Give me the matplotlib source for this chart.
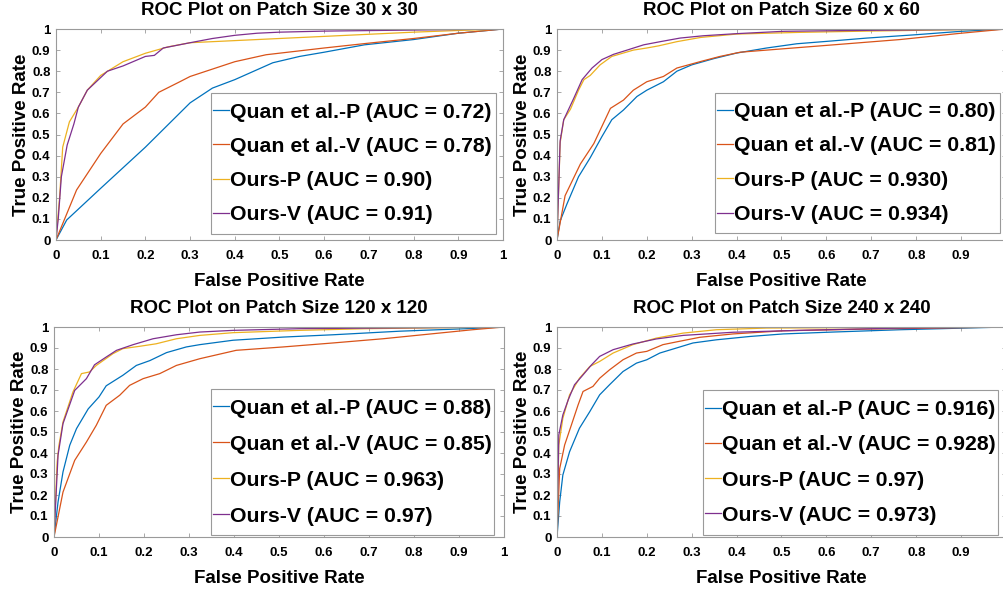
import matplotlib
matplotlib.use("Agg")
import matplotlib.pyplot as plt
from matplotlib.patches import Rectangle
import numpy as np

plt.rcParams['font.family'] = ['Liberation Sans', 'DejaVu Sans']
plt.rcParams['font.weight'] = 'bold'

colors = ['#0072BD', '#D95319', '#EDB120', '#7E2F8E']
methods = ['Quan et al.-P', 'Quan et al.-V', 'Ours-P', 'Ours-V']

patch_sizes = ['30 x 30', '60 x 60', '120 x 120', '240 x 240']
auc_labels = [
    ['0.72', '0.78', '0.90', '0.91'],
    ['0.80', '0.81', '0.930', '0.934'],
    ['0.88', '0.85', '0.963', '0.97'],
    ['0.916', '0.928', '0.97', '0.973'],
]

# ---- Patch 30 x 30 ----
p30_qp_fpr = [0, 0.024, 0.1, 0.2, 0.3, 0.35, 0.4, 0.485, 0.545, 0.6, 0.69, 0.8, 0.9, 1]
p30_qp_tpr = [0, 0.095, 0.245, 0.44, 0.65, 0.72, 0.76, 0.84, 0.87, 0.89, 0.925, 0.95, 0.98, 1]
p30_qv_fpr = [0, 0.046, 0.1, 0.15, 0.2, 0.23, 0.277, 0.3, 0.4, 0.47, 0.6, 0.7, 0.8, 0.9, 1]
p30_qv_tpr = [0, 0.237, 0.41, 0.55, 0.63, 0.70, 0.75, 0.775, 0.845, 0.878, 0.91, 0.933, 0.955, 0.98, 1]
p30_op_fpr = [0, 0.008, 0.015, 0.03, 0.05, 0.07, 0.1, 0.15, 0.2, 0.25, 0.3, 0.4, 0.5, 0.6, 0.7, 0.8, 0.9, 1]
p30_op_tpr = [0, 0.2, 0.44, 0.56, 0.63, 0.71, 0.78, 0.845, 0.885, 0.915, 0.935, 0.945, 0.955, 0.965, 0.975, 0.985, 0.993, 1]
p30_ov_fpr = [0, 0.005, 0.012, 0.025, 0.04, 0.05, 0.07, 0.1, 0.115, 0.15, 0.2, 0.22, 0.24, 0.3, 0.35, 0.4, 0.45, 0.5, 0.6, 0.8, 1]
p30_ov_tpr = [0, 0.1, 0.3, 0.45, 0.55, 0.63, 0.71, 0.77, 0.8, 0.825, 0.87, 0.875, 0.91, 0.935, 0.955, 0.97, 0.98, 0.985, 0.99, 0.995, 1]

# ---- Patch 60 x 60 ----
p60_qp_fpr = [0, 0.007, 0.022, 0.048, 0.074, 0.1, 0.122, 0.148, 0.178, 0.2, 0.237, 0.267, 0.3, 0.35, 0.4, 0.467, 0.534, 0.616, 0.69, 0.8, 0.9, 1]
p60_qp_tpr = [0, 0.09, 0.17, 0.30, 0.39, 0.49, 0.57, 0.616, 0.68, 0.71, 0.75, 0.8, 0.83, 0.86, 0.886, 0.91, 0.93, 0.944, 0.957, 0.973, 0.989, 1]
p60_qv_fpr = [0, 0.018, 0.052, 0.082, 0.119, 0.148, 0.17, 0.2, 0.237, 0.267, 0.32, 0.363, 0.408, 0.467, 0.616, 0.764, 0.9, 1]
p60_qv_tpr = [0, 0.21, 0.36, 0.457, 0.624, 0.663, 0.71, 0.75, 0.775, 0.815, 0.846, 0.87, 0.89, 0.9, 0.925, 0.95, 0.98, 1]
p60_op_fpr = [0, 0.007, 0.015, 0.03, 0.048, 0.06, 0.074, 0.096, 0.122, 0.17, 0.2, 0.226, 0.267, 0.32, 0.4, 0.54, 0.69, 1]
p60_op_tpr = [0, 0.46, 0.57, 0.62, 0.71, 0.76, 0.78, 0.83, 0.87, 0.90, 0.91, 0.92, 0.94, 0.96, 0.976, 0.984, 0.99, 1]
p60_ov_fpr = [0, 0.007, 0.015, 0.026, 0.037, 0.056, 0.078, 0.1, 0.126, 0.156, 0.193, 0.23, 0.274, 0.326, 0.4, 0.504, 0.616, 1]
p60_ov_tpr = [0, 0.47, 0.57, 0.62, 0.67, 0.76, 0.815, 0.855, 0.88, 0.9, 0.925, 0.94, 0.957, 0.968, 0.978, 0.989, 0.992, 1]

# ---- Patch 120 x 120 ----
p120_qp_fpr = [0, 0.009, 0.02, 0.035, 0.05, 0.076, 0.1, 0.116, 0.153, 0.183, 0.213, 0.25, 0.294, 0.324, 0.398, 0.509, 0.62, 0.768, 0.916, 1]
p120_qp_tpr = [0, 0.167, 0.31, 0.437, 0.516, 0.61, 0.667, 0.72, 0.77, 0.817, 0.84, 0.878, 0.905, 0.916, 0.937, 0.952, 0.963, 0.98, 0.992, 1]
p120_qv_fpr = [0, 0.02, 0.046, 0.072, 0.094, 0.116, 0.146, 0.168, 0.198, 0.235, 0.272, 0.324, 0.405, 0.509, 0.62, 0.731, 0.842, 0.93, 1]
p120_qv_tpr = [0, 0.214, 0.365, 0.452, 0.532, 0.627, 0.675, 0.722, 0.754, 0.778, 0.817, 0.849, 0.889, 0.905, 0.924, 0.944, 0.968, 0.987, 1]
p120_op_fpr = [0, 0.007, 0.011, 0.02, 0.042, 0.061, 0.079, 0.094, 0.131, 0.153, 0.19, 0.227, 0.272, 0.324, 0.398, 0.546, 0.694, 1]
p120_op_tpr = [0, 0.357, 0.437, 0.548, 0.69, 0.778, 0.786, 0.817, 0.873, 0.897, 0.908, 0.92, 0.944, 0.96, 0.973, 0.984, 0.992, 1]
p120_ov_fpr = [0, 0.009, 0.02, 0.046, 0.072, 0.09, 0.116, 0.139, 0.176, 0.22, 0.272, 0.324, 0.398, 0.546, 1]
p120_ov_tpr = [0, 0.39, 0.54, 0.698, 0.754, 0.82, 0.857, 0.889, 0.916, 0.944, 0.963, 0.976, 0.984, 0.992, 1]

# ---- Patch 240 x 240 ----
p240_qp_fpr = [0, 0.006, 0.013, 0.028, 0.05, 0.073, 0.095, 0.117, 0.147, 0.177, 0.2, 0.229, 0.266, 0.303, 0.355, 0.43, 0.504, 0.615, 0.764, 1]
p240_qp_tpr = [0, 0.167, 0.295, 0.406, 0.518, 0.597, 0.677, 0.725, 0.788, 0.828, 0.844, 0.876, 0.9, 0.924, 0.939, 0.955, 0.967, 0.976, 0.987, 1]
p240_qv_fpr = [0, 0.006, 0.017, 0.032, 0.047, 0.058, 0.08, 0.095, 0.117, 0.147, 0.177, 0.2, 0.236, 0.273, 0.318, 0.392, 0.504, 0.689, 1]
p240_qv_tpr = [0, 0.326, 0.438, 0.533, 0.629, 0.693, 0.717, 0.756, 0.796, 0.844, 0.876, 0.884, 0.916, 0.932, 0.951, 0.967, 0.982, 0.99, 1]
p240_op_fpr = [0, 0.004, 0.013, 0.028, 0.05, 0.073, 0.095, 0.125, 0.169, 0.221, 0.281, 0.355, 0.467, 1]
p240_op_tpr = [0, 0.438, 0.565, 0.677, 0.756, 0.812, 0.836, 0.876, 0.916, 0.947, 0.971, 0.987, 0.995, 1]
p240_ov_fpr = [0, 0.004, 0.013, 0.025, 0.039, 0.058, 0.077, 0.095, 0.125, 0.169, 0.221, 0.281, 0.392, 0.541, 0.764, 1]
p240_ov_tpr = [0, 0.486, 0.581, 0.653, 0.725, 0.772, 0.82, 0.86, 0.892, 0.919, 0.943, 0.96, 0.975, 0.984, 0.995, 1]

curves = [
    [(p30_qp_fpr, p30_qp_tpr), (p30_qv_fpr, p30_qv_tpr), (p30_op_fpr, p30_op_tpr), (p30_ov_fpr, p30_ov_tpr)],
    [(p60_qp_fpr, p60_qp_tpr), (p60_qv_fpr, p60_qv_tpr), (p60_op_fpr, p60_op_tpr), (p60_ov_fpr, p60_ov_tpr)],
    [(p120_qp_fpr, p120_qp_tpr), (p120_qv_fpr, p120_qv_tpr), (p120_op_fpr, p120_op_tpr), (p120_ov_fpr, p120_ov_tpr)],
    [(p240_qp_fpr, p240_qp_tpr), (p240_qv_fpr, p240_qv_tpr), (p240_op_fpr, p240_op_tpr), (p240_ov_fpr, p240_ov_tpr)],
]

ticks = [0, 0.1, 0.2, 0.3, 0.4, 0.5, 0.6, 0.7, 0.8, 0.9, 1]
tick_labels = ['0', '0.1', '0.2', '0.3', '0.4', '0.5', '0.6', '0.7', '0.8', '0.9', '1']

W, H = 1004, 592
fig = plt.figure(figsize=(W / 100, H / 100), dpi=100)

# pixel boxes: left, top, right, bottom
boxes = [
    (56, 29, 503, 240),
    (557, 29, 1006, 240),
    (54, 327, 504, 537),
    (557, 327, 1006, 537),
]
legend_boxes = [  # left, top, right, bottom in pixels
    (211, 93, 496, 234),
    (715, 93, 1000, 233),
    (211, 389, 494, 535),
    (703, 390, 998, 535),
]
legend_spacing = [0.72, 0.72, 0.8, 0.76]

spine_col = '#9a9a9a'
for i in range(4):
    l, t, r, b = boxes[i]
    ax = fig.add_axes([l / W, 1 - b / H, (r - l) / W, (b - t) / H])
    for j in range(4):
        fpr, tpr = curves[i][j]
        ax.plot(fpr, tpr, color=colors[j], lw=0.9,
                label=f'{methods[j]} (AUC = {auc_labels[i][j]})')
    ax.set_xlim(0, 1)
    ax.set_ylim(0, 1)
    ax.set_xticks(ticks)
    ax.set_xticklabels(tick_labels)
    ax.set_yticks(ticks)
    ax.set_yticklabels(tick_labels)
    ax.tick_params(direction='in', length=3, width=0.6, color=spine_col,
                   top=True, right=True, labelsize=9.5)
    ax.tick_params(axis='x', pad=7)
    ax.tick_params(axis='y', pad=4)
    for lab in ax.get_xticklabels() + ax.get_yticklabels():
        lab.set_fontweight('bold')
    for s in ax.spines.values():
        s.set_color(spine_col)
        s.set_linewidth(0.8)
    ax.set_xlabel('False Positive Rate', fontsize=13.5, fontweight='bold', labelpad=8)
    ax.set_ylabel('True Positive Rate', fontsize=13.5, fontweight='bold', labelpad=1)
    ax.set_title(f'ROC Plot on Patch Size {patch_sizes[i]}', fontsize=13.5,
                 fontweight='bold', pad=10)

    # legend frame
    ll, lt, lr, lb = legend_boxes[i]
    fx0 = (ll - l) / (r - l)
    fy0 = (b - lb) / (b - t)
    fw = (lr - ll) / (r - l)
    fh = (lb - lt) / (b - t)
    ax.add_patch(Rectangle((fx0, fy0), fw, fh, transform=ax.transAxes,
                           facecolor='white', edgecolor=spine_col, lw=0.8,
                           zorder=4, clip_on=False))
    leg = ax.legend(loc='center left',
                    bbox_to_anchor=(fx0 + 2 / (r - l), fy0 + fh / 2),
                    prop={'size': 15.3, 'weight': 'bold'},
                    frameon=False, handlelength=0.75,
                    handletextpad=0.05, labelspacing=legend_spacing[i],
                    borderpad=0, borderaxespad=0)
    leg.set_zorder(5)

fig.savefig('out.png', dpi=100)
